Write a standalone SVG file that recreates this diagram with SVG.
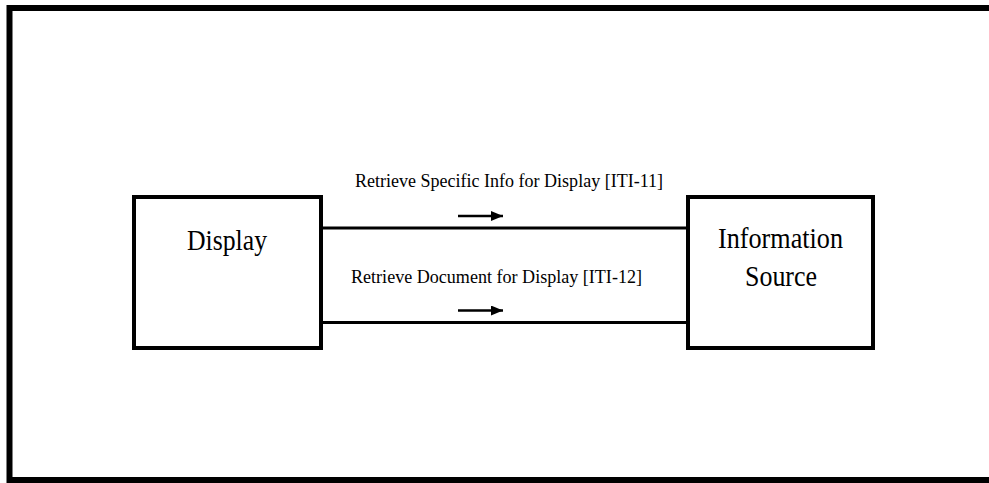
<svg xmlns="http://www.w3.org/2000/svg" width="989" height="483" viewBox="0 0 989 483">
<style>
  .frame{fill:none;stroke:#000;stroke-width:6}
  .box{fill:#fff;stroke:#000;stroke-width:4}
  .conn{stroke:#000;stroke-width:3;fill:none}
  .arr{stroke:#000;stroke-width:2.5;fill:none}
  .big{font-family:"Liberation Serif","Times New Roman",serif;font-size:29px;fill:#000}
  .lbl{font-family:"Liberation Serif","Times New Roman",serif;font-size:18px;fill:#000}
</style>
<defs>
  <marker id="ah" markerWidth="12" markerHeight="10" refX="12" refY="5" orient="auto" markerUnits="userSpaceOnUse">
    <path d="M0,0 L12,5 L0,10 Z" fill="#000"/>
  </marker>
</defs>
<rect width="989" height="483" fill="#fff"/>
<rect class="frame" x="9.5" y="8" width="990" height="472"/>
<g id="connectors">
  <line class="conn" x1="321" y1="228" x2="688" y2="228"/>
  <line class="conn" x1="321" y1="322.5" x2="688" y2="322.5"/>
  <line class="arr" x1="458" y1="216" x2="503" y2="216" marker-end="url(#ah)"/>
  <line class="arr" x1="458" y1="310.5" x2="503" y2="310.5" marker-end="url(#ah)"/>
  <text class="lbl" x="355" y="187" textLength="308" lengthAdjust="spacingAndGlyphs">Retrieve Specific Info for Display [ITI-11]</text>
  <text class="lbl" x="351" y="283" textLength="291" lengthAdjust="spacingAndGlyphs">Retrieve Document for Display [ITI-12]</text>
</g>
<g id="display">
  <rect class="box" x="134" y="197" width="187" height="151"/>
  <text class="big" x="187" y="250" textLength="80" lengthAdjust="spacingAndGlyphs">Display</text>
</g>
<g id="information-source">
  <rect class="box" x="688" y="197" width="185" height="151"/>
  <text class="big" x="718" y="248" textLength="125" lengthAdjust="spacingAndGlyphs">Information</text>
  <text class="big" x="745" y="286" textLength="72" lengthAdjust="spacingAndGlyphs">Source</text>
</g>
</svg>
